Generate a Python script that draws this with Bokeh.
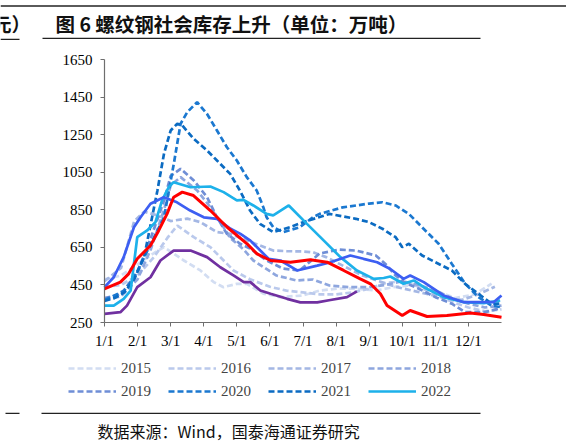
from bokeh.plotting import figure
from bokeh.models import Label, BoxAnnotation, Legend, LegendItem, FixedTicker, Range1d, LinearAxis
from bokeh.embed import file_html
from bokeh.resources import INLINE

# ---- data (x in months since 1/1, y in 万吨) ----
month_ticks = [0, 1, 2, 3, 4, 5, 6, 7, 8, 9, 10, 11]
month_labels = ["1/1", "2/1", "3/1", "4/1", "5/1", "6/1", "7/1", "8/1", "9/1", "10/1", "11/1", "12/1"]
y_ticks = [250, 450, 650, 850, 1050, 1250, 1450, 1650]
x_bounds = (0, 12)
y_bounds = (250, 1650)

x_2015 = [0, 0.5, 1.0, 1.5, 1.8, 2.4, 2.9, 3.3, 3.6, 4.0, 4.3, 4.8, 5.3, 6.0, 6.5, 7.1, 7.6, 8.2, 8.8, 9.4, 10.0, 10.6, 11.2, 11.7]
y_2015 = [480, 500, 560, 620, 651, 580, 527, 465, 438, 456, 456, 404, 385, 394, 420, 431, 430, 420, 440, 450, 420, 380, 400, 457]

x_2016 = [0, 0.5, 1.0, 1.5, 1.9, 2.2, 2.7, 3.2, 3.9, 4.4, 5.0, 5.5, 6.0, 6.5, 7.0, 7.5, 8.0, 8.5, 9.0, 9.5, 10.0, 10.5, 11.0, 11.5, 12.0]
y_2016 = [440, 450, 500, 600, 700, 766, 704, 651, 527, 480, 440, 420, 410, 400, 400, 410, 430, 460, 470, 440, 400, 360, 330, 310, 320]

x_2017 = [0, 0.5, 0.9, 1.2, 1.6, 2.0, 2.5, 2.9, 3.4, 3.8, 4.4, 5.1, 5.5, 6.0, 6.3, 6.7, 7.3, 7.8, 8.3, 8.8, 9.3, 9.8, 10.3, 10.8, 11.3, 11.8]
y_2017 = [470, 540, 790, 840, 820, 790, 803, 784, 731, 722, 680, 633, 630, 628, 624, 598, 544, 500, 470, 440, 420, 400, 380, 370, 400, 440]

x_2018 = [0, 0.5, 1.0, 1.4, 1.8, 2.0, 2.3, 2.8, 3.2, 3.6, 3.8, 4.2, 4.5, 5.2, 5.8, 6.3, 6.8, 7.4, 8.0, 8.5, 9.0, 9.5, 10.0, 10.5, 11.0, 11.5, 12.0]
y_2018 = [370, 390, 480, 640, 850, 980, 1024, 953, 864, 757, 700, 640, 580, 500, 474, 479, 447, 438, 438, 450, 470, 450, 420, 380, 350, 330, 340]

x_2019 = [0, 0.5, 1.0, 1.4, 1.8, 2.0, 2.3, 2.7, 3.1, 3.4, 3.7, 4.1, 4.4, 4.9, 5.4, 5.9, 6.5, 7.1, 7.6, 8.2, 8.5, 8.8, 9.1, 9.5, 10.0, 10.5, 10.9, 11.5, 11.9]
y_2019 = [380, 400, 520, 700, 900, 1030, 1068, 1006, 917, 810, 722, 669, 644, 580, 537, 527, 617, 638, 633, 607, 560, 500, 460, 430, 385, 350, 305, 305, 323]

x_2020 = [0, 0.3, 0.6, 0.9, 1.2, 1.5, 1.8, 2.1, 2.3, 2.5, 2.8, 3.1, 3.4, 3.7, 4.0, 4.3, 4.6, 4.8, 4.9, 5.1, 5.4, 5.9, 6.3, 6.5, 7.2, 8.0, 8.4, 8.8, 9.2, 9.6, 10.1, 10.5, 10.9, 11.3, 11.7, 12.0]
y_2020 = [370, 394, 420, 491, 598, 704, 810, 1100, 1308, 1369, 1423, 1360, 1272, 1183, 1112, 1024, 953, 864, 810, 757, 731, 757, 810, 828, 863, 883, 890, 873, 828, 757, 669, 562, 457, 385, 340, 331]

x_2021 = [0, 0.3, 0.6, 0.9, 1.2, 1.6, 1.8, 2.0, 2.2, 2.35, 2.7, 3.1, 3.4, 3.8, 4.1, 4.4, 4.7, 5.1, 5.6, 6.0, 6.8, 7.6, 8.0, 8.4, 8.8, 9.0, 9.2, 9.6, 10.0, 10.5, 10.9, 11.3, 11.7, 12.0]
y_2021 = [365, 380, 410, 480, 600, 953, 1150, 1272, 1308, 1299, 1227, 1166, 1112, 1041, 950, 846, 775, 731, 757, 784, 828, 802, 784, 749, 704, 651, 669, 607, 571, 527, 456, 403, 350, 350]

x_2022 = [0, 0.28, 0.58, 0.79, 0.89, 0.99, 1.29, 1.54, 1.74, 1.94, 2.09, 2.6, 3.2, 3.6, 4.0, 4.2, 4.5, 4.9, 5.1, 5.57, 6.12, 6.63, 7.13, 7.63, 8.14, 8.44, 8.64, 9.04, 9.35, 9.65, 10.25, 10.86, 11.46, 11.96]
y_2022 = [340, 340, 376, 420, 562, 704, 740, 784, 900, 970, 997, 970, 974, 944, 900, 903, 873, 828, 820, 873, 775, 686, 598, 527, 482, 487, 495, 456, 474, 438, 385, 358, 353, 367]

x_2023 = [0, 0.28, 0.58, 0.89, 1.09, 1.39, 1.79, 2.19, 2.59, 3.0, 3.4, 3.81, 4.11, 4.41, 4.71, 4.96, 5.32, 5.82, 6.43, 6.83, 7.43, 7.83, 8.24, 8.64, 9.04, 9.24, 9.65, 10.25, 10.86, 11.46, 11.76, 12.0]
y_2023 = [438, 491, 598, 757, 810, 882, 917, 890, 846, 810, 802, 749, 722, 686, 633, 589, 580, 527, 553, 571, 607, 589, 571, 535, 482, 500, 465, 394, 358, 358, 358, 394]

x_2024 = [0, 0.48, 0.73, 0.99, 1.39, 1.64, 1.89, 1.99, 2.09, 2.35, 2.69, 3.2, 3.71, 4.31, 4.61, 5.02, 5.62, 6.22, 6.73, 7.23, 7.73, 8.04, 8.34, 8.54, 9.0, 9.24, 9.75, 10.35, 11.06, 11.46, 12.0]
y_2024 = [429, 465, 509, 589, 660, 740, 828, 873, 917, 944, 926, 846, 757, 669, 615, 580, 571, 584, 571, 527, 482, 456, 403, 340, 287, 314, 282, 287, 301, 293, 278]

x_2025 = [0, 0.48, 0.68, 0.99, 1.39, 1.69, 2.09, 2.6, 3.1, 3.5, 3.91, 4.21, 4.41, 4.71, 5.02, 5.52, 5.92, 6.43, 6.83, 7.33, 7.63]
y_2025 = [296, 305, 340, 438, 491, 580, 633, 633, 598, 544, 500, 465, 465, 420, 403, 376, 357, 357, 370, 385, 416]

dashed = [
    ("2015", x_2015, y_2015, "#d2ddf2"),
    ("2016", x_2016, y_2016, "#bac9ec"),
    ("2017", x_2017, y_2017, "#a4b7e4"),
    ("2018", x_2018, y_2018, "#8ea6de"),
    ("2019", x_2019, y_2019, "#6f8ed6"),
    ("2020", x_2020, y_2020, "#1b78d0"),
    ("2021", x_2021, y_2021, "#0b6bc2"),
]

# layout: canvas 566x444, plot area from px (104,59) to (501,322)
W, H = 566, 444
L, R, T, B = 104, 501, 59, 322
xs_per_px = (x_bounds[1] - x_bounds[0]) / (R - L)
ys_per_px = (y_bounds[1] - y_bounds[0]) / (B - T)
x_range = Range1d(x_bounds[0] - L * xs_per_px, x_bounds[1] + (W - R) * xs_per_px)
y_range = Range1d(y_bounds[0] - (H - B) * ys_per_px, y_bounds[1] + T * ys_per_px)

p = figure(width=W, height=H, output_backend="svg", toolbar_location=None,
           x_range=x_range, y_range=y_range, x_axis_location=None, y_axis_location=None,
           min_border=0)
p.outline_line_color = None
p.background_fill_color = "white"
p.border_fill_color = "white"
p.xgrid.visible = False
p.ygrid.visible = False

serif = "Liberation Serif"
xaxis = LinearAxis(fixed_location=y_bounds[0], bounds=x_bounds, ticker=FixedTicker(ticks=month_ticks),
                   major_label_overrides={t: l for t, l in zip(month_ticks, month_labels)},
                   major_label_standoff=6)
yaxis = LinearAxis(fixed_location=x_bounds[0], bounds=y_bounds, ticker=FixedTicker(ticks=y_ticks),
                   major_label_standoff=8)
for ax in (xaxis, yaxis):
    ax.axis_line_color = "#6e6e6e"
    ax.axis_line_width = 1.2
    ax.major_tick_line_color = "#6e6e6e"
    ax.major_tick_in = 0
    ax.major_tick_out = 4
    ax.minor_tick_line_color = None
    ax.major_label_text_font = serif
    ax.major_label_text_font_size = "15px"
    ax.major_label_text_color = "black"
p.add_layout(xaxis, "below")
p.add_layout(yaxis, "left")

items = []
for name, xs, ys, col in dashed:
    r = p.line(xs, ys, line_color=col, line_width=2.7, line_dash="6 3")
    items.append(LegendItem(label=name, renderers=[r]))
r22 = p.line(x_2022, y_2022, line_color="#1db1ea", line_width=2.7)
items.append(LegendItem(label="2022", renderers=[r22]))
p.line(x_2023, y_2023, line_color="#3d5ff2", line_width=2.7)
p.line(x_2025, y_2025, line_color="#7030a0", line_width=2.7)
p.line(x_2024, y_2024, line_color="#ff0000", line_width=3)

for row in range(2):
    lg = Legend(items=items[4 * row:4 * row + 4], orientation="horizontal",
                location=(68, 66 - 23 * row),
                glyph_width=48, glyph_height=10, label_standoff=5, label_width=47,
                label_height=20, spacing=0, padding=0, margin=0,
                label_text_font=serif, label_text_font_size="15px",
                border_line_color=None, background_fill_alpha=0)
    p.add_layout(lg, "center")

p.add_layout(Label(x=55, y=23, x_units="canvas", y_units="canvas",
                   text="图 6 螺纹钢社会库存上升（单位：万吨）",
                   text_font="Noto Sans CJK SC", text_font_style="bold", text_font_size="19.5px",
                   text_baseline="middle", text_align="left", text_color="#111111"))
p.add_layout(Label(x=30, y=23, x_units="canvas", y_units="canvas", text="元）",
                   text_font="Noto Sans CJK SC", text_font_style="bold", text_font_size="19px",
                   text_baseline="middle", text_align="right", text_color="#111111"))
p.add_layout(Label(x=97, y=430, x_units="canvas", y_units="canvas",
                   text="数据来源：Wind，国泰海通证券研究",
                   text_font="Noto Sans CJK SC", text_font_size="16px",
                   text_baseline="middle", text_align="left", text_color="#111111"))

for (l, r, t, h, c) in [(0, 566, 4.5, 2.0, "#5a5a5a"), (42, 480, 37.2, 1.2, "#222222"),
                        (0, 19, 38.2, 1.2, "#222222"), (41, 480, 412.2, 1.2, "#222222"),
                        (5, 19, 412.2, 1.2, "#222222")]:
    p.add_layout(BoxAnnotation(left=l, right=r, top=t, bottom=t + h,
                               left_units="canvas", right_units="canvas",
                               top_units="canvas", bottom_units="canvas",
                               fill_color=c, fill_alpha=1, line_color=None))

open("out.html", "w").write(file_html(p, INLINE))
